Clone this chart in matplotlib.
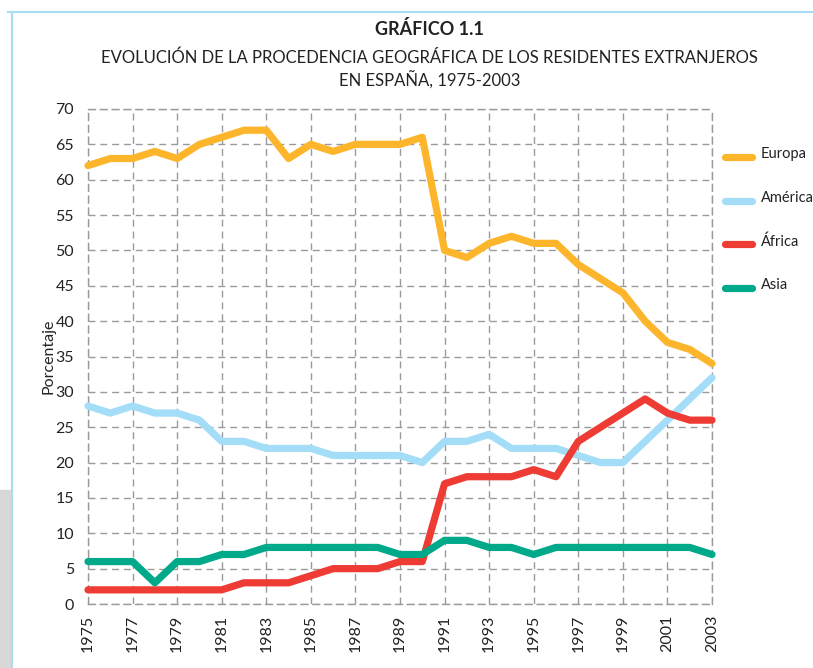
import matplotlib
matplotlib.use("Agg")
import matplotlib.pyplot as plt
from matplotlib.lines import Line2D
from matplotlib.patches import Rectangle

## Data

years = list(range(1975, 2004))

europa = [62, 63, 63, 64, 63, 65, 66, 67, 67, 63, 65, 64, 65, 65, 65, 66,
          50, 49, 51, 52, 51, 51, 48, 46, 44, 40, 37, 36, 34]
america = [28, 27, 28, 27, 27, 26, 23, 23, 22, 22, 22, 21, 21, 21, 21, 20,
           23, 23, 24, 22, 22, 22, 21, 20, 20, 23, 26, 29, 32]
africa = [2, 2, 2, 2, 2, 2, 2, 3, 3, 3, 4, 5, 5, 5, 6, 6,
          17, 18, 18, 18, 19, 18, 23, 25, 27, 29, 27, 26, 26]
asia = [6, 6, 6, 3, 6, 6, 7, 7, 8, 8, 8, 8, 8, 8, 7, 7,
        9, 9, 8, 8, 7, 8, 8, 8, 8, 8, 8, 8, 7]

series_names = ["Europa", "América", "África", "Asia"]
series_values = [europa, america, africa, asia]
series_colors = ["#FDB52B", "#A3DDF7", "#EE3B33", "#00A98A"]

x_ticks = list(range(1975, 2004, 2))
y_ticks = list(range(0, 71, 5))

title = "GRÁFICO 1.1"
subtitle = ("EVOLUCIÓN DE LA PROCEDENCIA GEOGRÁFICA DE LOS RESIDENTES EXTRANJEROS\n"
            "EN ESPAÑA, 1975-2003")

plt.rcParams['font.family'] = ['Lato', 'DejaVu Sans']

fig = plt.figure(figsize=(8.13, 6.68), dpi=100)

# Page decoration: light blue frame and grey strip at the bottom left
fig.add_artist(Line2D([8 / 813, 1], [1 - 12 / 668, 1 - 12 / 668],
                      color="#A9DDF3", lw=1.5, transform=fig.transFigure))
fig.add_artist(Line2D([12 / 813, 12 / 813], [0, 1 - 12 / 668],
                      color="#A9DDF3", lw=1.5, transform=fig.transFigure))
fig.add_artist(Rectangle((0, 0), 10 / 813, 178 / 668, color="#D8D8D8",
                         transform=fig.transFigure, zorder=0))

ax = fig.add_axes([88 / 813, 1 - 604 / 668, (712 - 88) / 813, (604 - 109) / 668])

for name, vals, col in zip(series_names, series_values, series_colors):
    ax.plot(years, vals, color=col, lw=5.2, solid_capstyle='round',
            solid_joinstyle='round', label=name, clip_on=False, zorder=3)

ax.set_xlim(1975, 2003)
ax.set_ylim(0, 70)
ax.set_xticks(x_ticks)
ax.set_xticklabels([str(y) for y in x_ticks], rotation=90, fontsize=11.5)
ax.set_yticks(y_ticks)
ax.set_yticklabels([str(y) for y in y_ticks], fontsize=11.5)
ax.tick_params(axis='both', length=0, pad=8, colors="#222222")
ax.tick_params(axis='y', pad=10)

ax.grid(True, color="#9A9A9A", linestyle=(0, (5, 3.5)), lw=1.0)
for side in ["left", "right", "top", "bottom"]:
    ax.spines[side].set_linestyle((0, (5, 3.5)))
    ax.spines[side].set_color("#9A9A9A")
    ax.spines[side].set_linewidth(1.0)

ax.set_ylabel("Porcentaje", fontsize=11.5, labelpad=0, color="#222222")

fig.text(0.528, 1 - 29 / 668, title, ha='center', va='center',
         fontsize=13, fontweight='bold', color="#222222")
fig.text(0.528, 1 - 69 / 668, subtitle, ha='center', va='center',
         fontsize=12, color="#222222", linespacing=1.3)

# Legend to the right of the plot, running past the page edge
for i, (name, col) in enumerate(zip(series_names, series_colors)):
    y = 1 - (157 + 43.7 * i) / 668
    fig.add_artist(Line2D([725 / 813, 752 / 813], [y, y], color=col, lw=5.2,
                          solid_capstyle='round', transform=fig.transFigure))
    fig.text(761 / 813, y + 3 / 668, name, ha='left', va='center',
             fontsize=10.5, color="#222222")

fig.savefig("out.png", dpi=100)
